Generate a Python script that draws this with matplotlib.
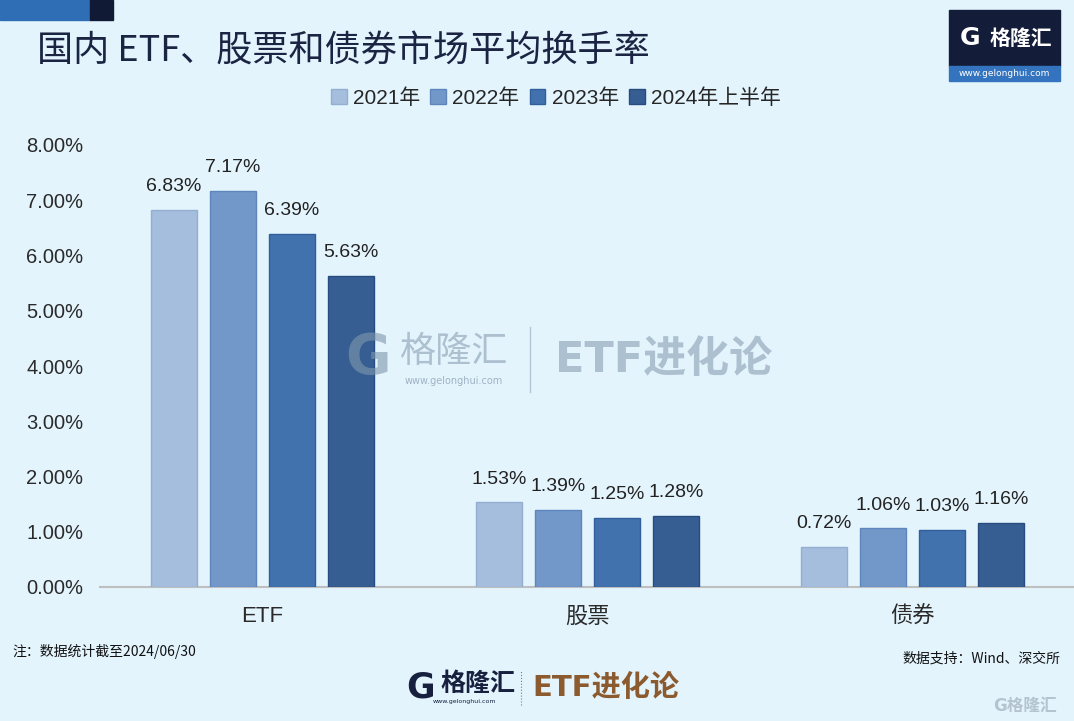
import matplotlib
matplotlib.use("Agg")
import matplotlib.pyplot as plt
import numpy as np
from matplotlib.patches import Rectangle

plt.rcParams['font.family'] = ['Liberation Sans', 'Noto Sans CJK SC', 'DejaVu Sans']

# data
categories = ["ETF", "股票", "债券"]
series = ["2021年", "2022年", "2023年", "2024年上半年"]
v2021 = [6.83, 1.53, 0.72]
v2022 = [7.17, 1.39, 1.06]
v2023 = [6.39, 1.25, 1.03]
v2024h1 = [5.63, 1.28, 1.16]
yticks = [0, 1, 2, 3, 4, 5, 6, 7, 8]

colors = ['#A5BEDD', '#7297C9', '#4172AE', '#365E92']
edges = ['#94AED2', '#5F86BC', '#305F9C', '#284C7E']
bg = '#E3F4FD'

W, H = 1074, 721
fig = plt.figure(figsize=(W / 100, H / 100), dpi=100, facecolor=bg)
ax = fig.add_axes([100 / W, 1 - 587 / H, 975 / W, (587 - 145) / H])
ax.set_facecolor(bg)

x = np.arange(len(categories))
width = 0.1415
step = 0.1815
for i, (name, vals) in enumerate(zip(series, [v2021, v2022, v2023, v2024h1])):
    pos = x + (i - 1.5) * step
    bars = ax.bar(pos, vals, width, color=colors[i], edgecolor=edges[i], linewidth=1, label=name, zorder=3)
    for b, v in zip(bars, vals):
        ax.text(b.get_x() + b.get_width() / 2, v + 0.27, f"{v:.2f}%", ha='center', va='bottom',
                fontsize=14, color='#222222')

ax.set_xlim(-0.5, 2.5)
ax.set_ylim(0, 8)
ax.set_yticks(yticks)
ax.set_yticklabels([f"{t:.2f}%" for t in yticks], fontsize=14.5, color='#2a2a2a')
ax.set_xticks(x)
ax.set_xticklabels(categories, fontsize=16, color='#2a2a2a')
ax.tick_params(axis='y', length=0, pad=12)
ax.tick_params(axis='x', length=0, pad=14)
for s in ['top', 'right', 'left']:
    ax.spines[s].set_visible(False)
ax.spines['bottom'].set_color('#BFBFBF')
ax.spines['bottom'].set_linewidth(1.5)

# legend
fig.legend(loc='center', bbox_to_anchor=(556 / W, 1 - 98 / H), ncol=4, frameon=False,
           fontsize=15, handlelength=0.75, handleheight=0.75, handletextpad=0.3,
           columnspacing=0.5, labelcolor='#262626')

# title
fig.text(37 / W, 1 - 52 / H, "国内 ETF、股票和债券市场平均换手率", fontsize=26, color='#1B2442',
         va='center', ha='left', family=['Noto Sans CJK SC', 'DejaVu Sans'], weight='medium')

# top-left decoration
fig.add_artist(Rectangle((0, 1 - 20 / H), 90 / W, 20 / H, transform=fig.transFigure, color='#2F6DB5'))
fig.add_artist(Rectangle((90 / W, 1 - 20 / H), 23 / W, 20 / H, transform=fig.transFigure, color='#111A35'))

# top-right logo
fig.add_artist(Rectangle((949 / W, 1 - 66 / H), 111 / W, 56 / H, transform=fig.transFigure, color='#131C38'))
fig.add_artist(Rectangle((949 / W, 1 - 81 / H), 111 / W, 15 / H, transform=fig.transFigure, color='#3474BE'))
fig.text(970 / W, 1 - 38 / H, "G", fontsize=18, weight='bold', color='white', ha='center', va='center',
         family=['DejaVu Sans'])
fig.text(990 / W, 1 - 38 / H, "格隆汇", fontsize=15, weight='bold', color='white', ha='left', va='center',
         family=['Noto Sans CJK SC'])
fig.text(1004 / W, 1 - 73 / H, "www.gelonghui.com", fontsize=6.5, color='white', ha='center', va='center',
         family=['DejaVu Sans'])

# center watermark
wm = '#9FB3C4'
fig.text(368 / W, 1 - 358 / H, "G", fontsize=40, weight='bold', color='#7E98AE', alpha=0.6,
         ha='center', va='center', family=['DejaVu Sans'])
fig.text(400 / W, 1 - 352 / H, "格隆汇", fontsize=26, color=wm, alpha=0.8, ha='left', va='center',
         family=['Noto Sans CJK SC'])
fig.text(454 / W, 1 - 381 / H, "www.gelonghui.com", fontsize=7, color=wm, ha='center', va='center',
         family=['DejaVu Sans'])
fig.add_artist(plt.Line2D([530 / W, 530 / W], [1 - 392 / H, 1 - 327 / H], transform=fig.transFigure,
                          color=wm, lw=1, alpha=0.7))
fig.text(555 / W, 1 - 360 / H, "ETF进化论", fontsize=31, weight='bold', color=wm, alpha=0.8,
         ha='left', va='center', family=['DejaVu Sans', 'Noto Sans CJK SC'])

# footnotes
fig.text(12 / W, 1 - 651 / H, "注：数据统计截至2024/06/30", fontsize=10, color='#111111', ha='left',
         va='center', family=['Noto Sans CJK SC'], weight='medium')
fig.text(1060 / W, 1 - 659 / H, "数据支持：Wind、深交所", fontsize=10, color='#111111', ha='right',
         va='center', family=['Noto Sans CJK SC'], weight='medium')

# bottom logo
fig.text(421 / W, 1 - 687 / H, "G", fontsize=25, weight='bold', color='#17213F', ha='center', va='center',
         family=['DejaVu Sans'])
fig.text(440 / W, 1 - 684 / H, "格隆汇", fontsize=18, weight='bold', color='#17213F', ha='left', va='center',
         family=['Noto Sans CJK SC'])
fig.text(464 / W, 1 - 701 / H, "www.gelonghui.com", fontsize=4.5, color='#17213F', ha='center', va='center',
         family=['DejaVu Sans'])
fig.add_artist(plt.Line2D([521 / W, 521 / W], [1 - 705 / H, 1 - 670 / H], transform=fig.transFigure,
                          color='#6A7FA8', lw=0.8, ls=':'))
fig.text(532 / W, 1 - 688 / H, "ETF进化论", fontsize=21, weight='bold', color='#8B5A2E', ha='left',
         va='center', family=['DejaVu Sans', 'Noto Sans CJK SC'])

# bottom-right faint watermark
fig.text(1025 / W, 1 - 706 / H, "G格隆汇", fontsize=12, color='#B5C3CF', ha='center', va='center',
         family=['DejaVu Sans', 'Noto Sans CJK SC'], weight='bold')

fig.savefig("out.png", dpi=100, facecolor=bg)
